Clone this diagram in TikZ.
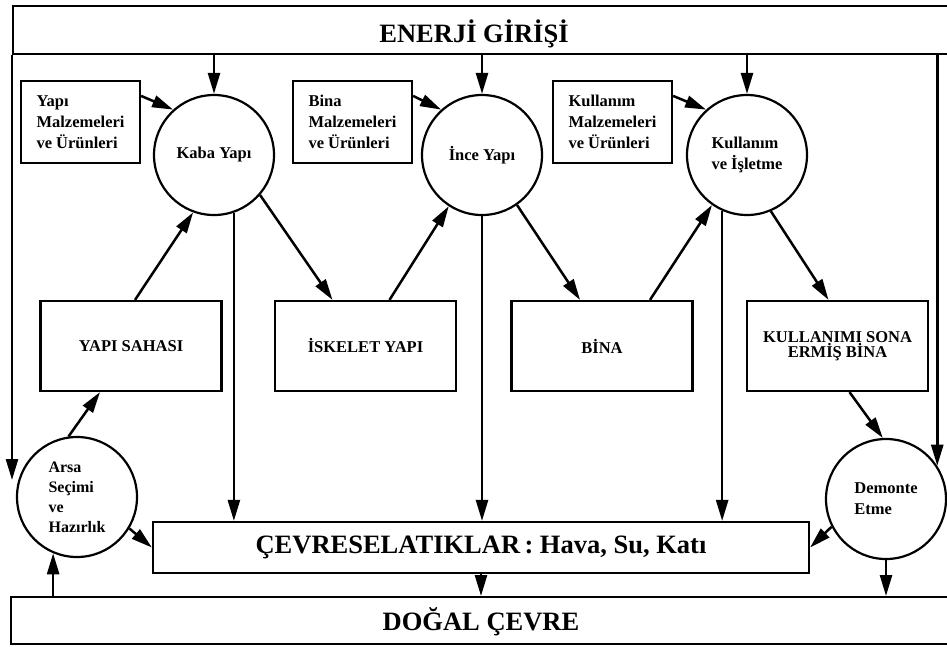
\documentclass[tikz,border=0pt]{standalone}
\usepackage{fontspec}
\setmainfont{Liberation Serif}
\usetikzlibrary{arrows.meta,calc}

\begin{document}
\begin{tikzpicture}[x=1pt,y=-1pt,
  every node/.style={font=\bfseries},
  wire/.style={line width=2.5pt, -{Triangle[length=21pt,width=12pt]}},
  band/.style={draw, line width=2.2pt, anchor=north west, inner sep=0pt, minimum width=960pt},
  bandtext/.style={anchor=base, font=\bfseries\fontsize{26.5}{30}\selectfont},
  stage/.style={draw, circle, line width=2.2pt, minimum size=120pt, inner sep=0pt,
    align=left, font=\bfseries\fontsize{16.5}{21}\selectfont},
  input/.style={draw, line width=2.2pt, minimum width=119pt, minimum height=82pt,
    inner sep=0pt, align=left, font=\bfseries\fontsize{16.5}{21}\selectfont},
  state/.style={draw, line width=2.2pt, minimum width=181pt, minimum height=90pt,
    inner sep=0pt, align=center, font=\bfseries\fontsize{16.5}{13}\selectfont},
]
\path[fill=white] (0,0) rectangle (947,646);
\clip (0,0) rectangle (947,646);

% energy input and natural environment bands
\node[band, minimum height=48pt] (enerji) at (12,5) {};
\node[bandtext] (enerjilbl) at (474,42) {ENERJİ GİRİŞİ};
\node[band, minimum height=47pt] (dogal) at (10,596) {};
\node[bandtext] (dogallbl) at (481,630) {DOĞAL ÇEVRE};

% process stages
\node[stage] (kaba) at (214,155) {Kaba Yapı};
\node[stage] (ince) at (482,155) {İnce Yapı};
\node[stage] (kull) at (747,155) {Kullanım\\ve İşletme};
\node[stage, font=\bfseries\fontsize{16}{20}\selectfont] (arsa) at (77,497) {Arsa\\Seçimi\\ve\\Hazırlık};
\node[stage] (dem) at (886,499) {Demonte\\Etme};

% material inputs
\node[input] (ym) at (80.5,122) {Yapı\\Malzemeleri\\ve Ürünleri};
\node[input] (bm) at (352.5,122) {Bina\\Malzemeleri\\ve Ürünleri};
\node[input] (km) at (612.5,122) {Kullanım\\Malzemeleri\\ve Ürünleri};

% building states
\node[state] (saha) at (131,346) {YAPI SAHASI};
\node[state] (isk) at (365.5,346) {İSKELET YAPI};
\node[state] (bina) at (602,346) {BİNA};
\node[state] (eol) at (837.5,346) {KULLANIMI SONA\\ERMİŞ BİNA};

% emissions
\node[draw, line width=2.2pt, minimum width=656pt, minimum height=51pt, inner sep=0pt,
  font=\bfseries\fontsize{26.5}{30}\selectfont] (cevre) at (481,547.5)
  {ÇEVRESELATIKLAR\,: Hava, Su, Katı};

% energy supply
\draw[wire] (enerji.south -| kaba.north) -- (kaba.north);
\draw[wire] (enerji.south -| ince.north) -- (ince.north);
\draw[wire] (enerji.south -| kull.north) -- (kull.north);
\coordinate (lefttip) at (13,480);
\draw[wire] (enerji.south west) -- (enerji.south west |- lefttip);
\draw[wire] (dem.33 |- enerji.south) -- (dem.33);

% materials into stages
\draw[wire] ($(ym.north east)+(0,16)$) -- (kaba.132);
\draw[wire] ($(bm.north east)+(0,16)$) -- (ince.132);
\draw[wire] ($(km.north east)+(0,16)$) -- (kull.132);

% main life-cycle chain
\draw[wire] (arsa.98) -- ($(saha.south)+(-31,0)$);
\draw[wire] ($(saha.north)+(4,0)$) -- (kaba.250);
\draw[wire] (kaba.-41) -- ($(isk.north)+(-33,0)$);
\draw[wire] ($(isk.north)+(24,0)$) -- (ince.237);
\draw[wire] (ince.-55) -- ($(bina.north)+(-22,0)$);
\draw[wire] ($(bina.north)+(48,0)$) -- (kull.235);
\draw[wire] (kull.-67) -- ($(eol.north)+(-9,0)$);
\draw[wire] ($(eol.south)+(12,0)$) -- (dem.93);

% emissions from each stage
\draw[wire] (kaba.-71) -- (kaba.-71 |- cevre.north);
\draw[wire] (ince.south) -- (ince.south |- cevre.north);
\draw[wire] (kull.246) -- (kull.246 |- cevre.north);
\draw[wire] (arsa.-31) -- (cevre.west);
\draw[wire] (dem.207) -- (cevre.east);

% exchange with the natural environment
\draw[wire] (cevre.south) -- (cevre.south |- dogal.north);
\draw[wire] (dem.south) -- (dem.south |- dogal.north);
\draw[wire] (arsa.247 |- dogal.north) -- (arsa.247);
\end{tikzpicture}
\end{document}
